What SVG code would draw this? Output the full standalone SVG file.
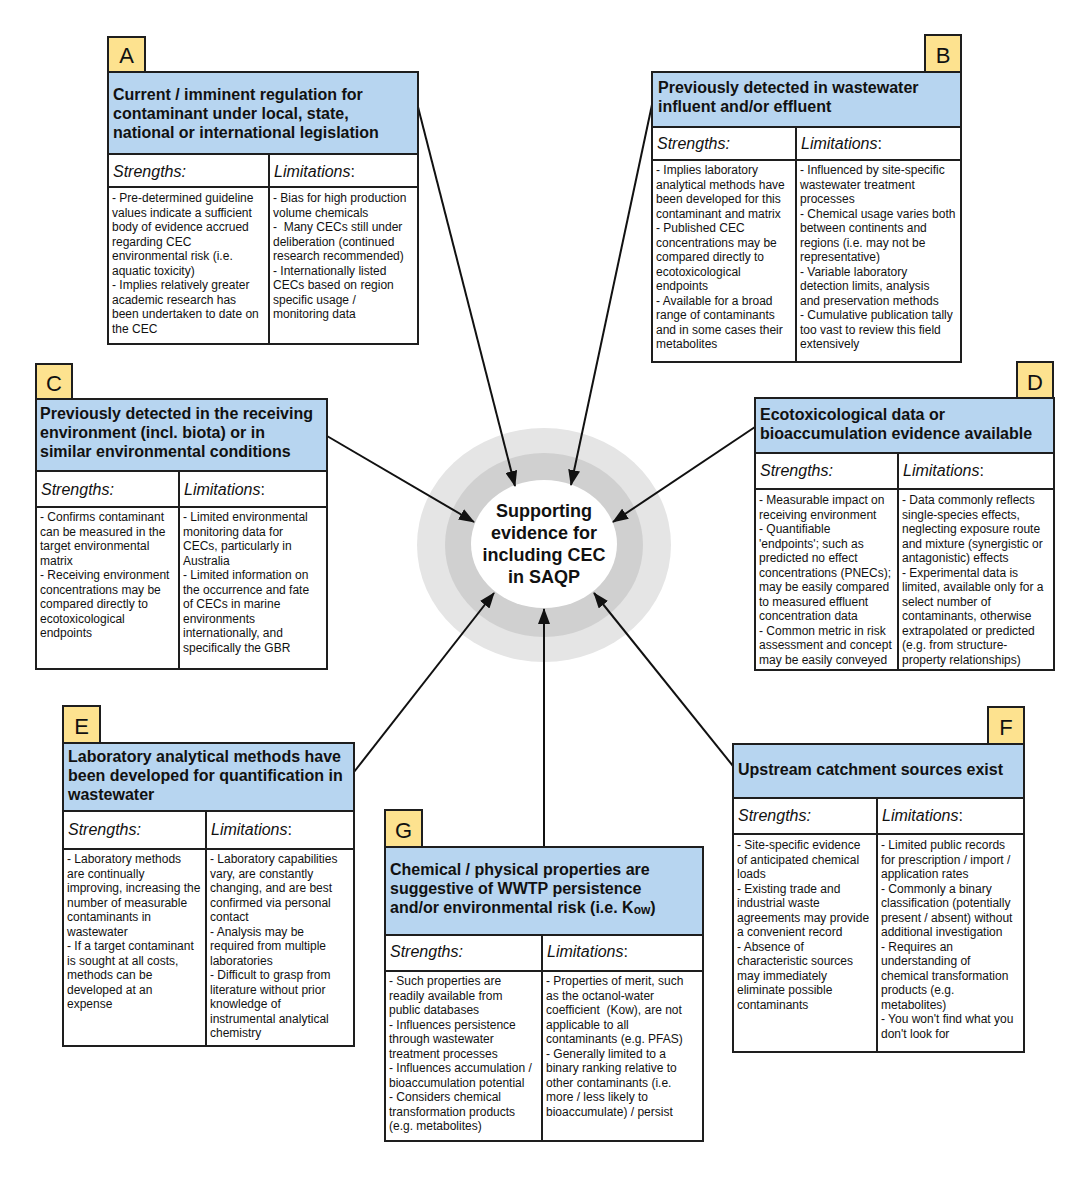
<svg xmlns="http://www.w3.org/2000/svg" width="1089" height="1178" viewBox="0 0 1089 1178">
<style>
.bg{fill:#ffffff}
.lbl{fill:#fde28f;stroke:#1e1e1e;stroke-width:2}
.ttl{fill:#b7d5f0;stroke:#1e1e1e;stroke-width:2}
.cell{fill:#ffffff;stroke:#1e1e1e;stroke-width:2}
.div{stroke:#1e1e1e;stroke-width:2}
.lt{font-family:"Liberation Sans",Arial,sans-serif;font-size:22px;fill:#111;text-anchor:middle}
.tt{font-family:"Liberation Sans",Arial,sans-serif;font-size:16px;font-weight:bold;fill:#111}
.hd{font-family:"Liberation Sans",Arial,sans-serif;font-size:16px;font-style:italic;fill:#111}
.up{font-style:normal}
.bd{font-family:"Liberation Sans",Arial,sans-serif;font-size:12px;fill:#111}
.ct{font-family:"Liberation Sans",Arial,sans-serif;font-size:18px;font-weight:bold;fill:#111;text-anchor:middle}
.arr{stroke:#111;stroke-width:2;fill:none;marker-end:url(#ah)}
</style>
<defs>
<marker id="ah" markerUnits="userSpaceOnUse" markerWidth="16" markerHeight="12" refX="15" refY="6" orient="auto">
<path d="M0,0 L16,6 L0,12 z" fill="#111"/>
</marker>
</defs>
<rect class="bg" x="0" y="0" width="1089" height="1178"/>

<g id="center">
<ellipse cx="544" cy="545" rx="127" ry="117" fill="#e5e5e5"/>
<ellipse cx="544" cy="545" rx="99" ry="92" fill="#d0d0d0"/>
<ellipse cx="544" cy="544" rx="73" ry="64" fill="#ffffff"/>
<text class="ct" x="544" y="517">Supporting</text>
<text class="ct" x="544" y="539">evidence for</text>
<text class="ct" x="544" y="561">including CEC</text>
<text class="ct" x="544" y="583">in SAQP</text>
</g>

<g id="connectors">
<line class="arr" x1="418" y1="107" x2="515" y2="486"/>
<line class="arr" x1="653" y1="100" x2="571" y2="485"/>
<line class="arr" x1="327" y1="436" x2="474" y2="522"/>
<line class="arr" x1="755" y1="427" x2="613" y2="522"/>
<line class="arr" x1="354" y1="772" x2="494" y2="593"/>
<line class="arr" x1="733" y1="766" x2="594" y2="593"/>
<line class="arr" x1="544" y1="847" x2="544" y2="609"/>
</g>

<g id="node-A">
<rect class="lbl" x="108" y="37" width="37" height="35"/>
<text class="lt" x="126.5" y="63">A</text>
<rect class="ttl" x="108" y="72" width="310" height="82"/>
<rect class="cell" x="108" y="154" width="310" height="33"/>
<rect class="cell" x="108" y="187" width="310" height="157"/>
<line class="div" x1="269" y1="154" x2="269" y2="344"/>
<text class="tt" x="113" y="100"><tspan x="113" dy="0">Current / imminent regulation for</tspan><tspan x="113" dy="19">contaminant under local, state,</tspan><tspan x="113" dy="19">national or international legislation</tspan></text>
<text class="hd" x="113" y="177">Strengths:</text>
<text class="hd" x="274" y="177">Limitations<tspan class="up">:</tspan></text>
<text class="bd" x="112" y="202"><tspan x="112" dy="0">- Pre-determined guideline</tspan><tspan x="112" dy="14.5">values indicate a sufficient</tspan><tspan x="112" dy="14.5">body of evidence accrued</tspan><tspan x="112" dy="14.5">regarding CEC</tspan><tspan x="112" dy="14.5">environmental risk (i.e.</tspan><tspan x="112" dy="14.5">aquatic toxicity)</tspan><tspan x="112" dy="14.5">- Implies relatively greater</tspan><tspan x="112" dy="14.5">academic research has</tspan><tspan x="112" dy="14.5">been undertaken to date on</tspan><tspan x="112" dy="14.5">the CEC</tspan></text>
<text class="bd" x="273" y="202"><tspan x="273" dy="0">- Bias for high production</tspan><tspan x="273" dy="14.5">volume chemicals</tspan><tspan x="273" dy="14.5">-&#160; Many CECs still under</tspan><tspan x="273" dy="14.5">deliberation (continued</tspan><tspan x="273" dy="14.5">research recommended)</tspan><tspan x="273" dy="14.5">- Internationally listed</tspan><tspan x="273" dy="14.5">CECs based on region</tspan><tspan x="273" dy="14.5">specific usage /</tspan><tspan x="273" dy="14.5">monitoring data</tspan></text>
</g>

<g id="node-B">
<rect class="lbl" x="925" y="35" width="36" height="37"/>
<text class="lt" x="943" y="63">B</text>
<rect class="ttl" x="652" y="72" width="309" height="55"/>
<rect class="cell" x="652" y="127" width="309" height="33"/>
<rect class="cell" x="652" y="160" width="309" height="202"/>
<line class="div" x1="796" y1="127" x2="796" y2="362"/>
<text class="tt" x="658" y="93"><tspan x="658" dy="0">Previously detected in wastewater</tspan><tspan x="658" dy="19">influent and/or effluent</tspan></text>
<text class="hd" x="657" y="149">Strengths:</text>
<text class="hd" x="801" y="149">Limitations<tspan class="up">:</tspan></text>
<text class="bd" x="656" y="174"><tspan x="656" dy="0">- Implies laboratory</tspan><tspan x="656" dy="14.5">analytical methods have</tspan><tspan x="656" dy="14.5">been developed for this</tspan><tspan x="656" dy="14.5">contaminant and matrix</tspan><tspan x="656" dy="14.5">- Published CEC</tspan><tspan x="656" dy="14.5">concentrations may be</tspan><tspan x="656" dy="14.5">compared directly to</tspan><tspan x="656" dy="14.5">ecotoxicological</tspan><tspan x="656" dy="14.5">endpoints</tspan><tspan x="656" dy="14.5">- Available for a broad</tspan><tspan x="656" dy="14.5">range of contaminants</tspan><tspan x="656" dy="14.5">and in some cases their</tspan><tspan x="656" dy="14.5">metabolites</tspan></text>
<text class="bd" x="800" y="174"><tspan x="800" dy="0">- Influenced by site-specific</tspan><tspan x="800" dy="14.5">wastewater treatment</tspan><tspan x="800" dy="14.5">processes</tspan><tspan x="800" dy="14.5">- Chemical usage varies both</tspan><tspan x="800" dy="14.5">between continents and</tspan><tspan x="800" dy="14.5">regions (i.e. may not be</tspan><tspan x="800" dy="14.5">representative)</tspan><tspan x="800" dy="14.5">- Variable laboratory</tspan><tspan x="800" dy="14.5">detection limits, analysis</tspan><tspan x="800" dy="14.5">and preservation methods</tspan><tspan x="800" dy="14.5">- Cumulative publication tally</tspan><tspan x="800" dy="14.5">too vast to review this field</tspan><tspan x="800" dy="14.5">extensively</tspan></text>
</g>

<g id="node-C">
<rect class="lbl" x="36" y="364" width="36" height="35"/>
<text class="lt" x="54" y="391">C</text>
<rect class="ttl" x="36" y="399" width="291" height="72"/>
<rect class="cell" x="36" y="471" width="291" height="36"/>
<rect class="cell" x="36" y="507" width="291" height="162"/>
<line class="div" x1="179" y1="471" x2="179" y2="669"/>
<text class="tt" x="40" y="419"><tspan x="40" dy="0">Previously detected in the receiving</tspan><tspan x="40" dy="19">environment (incl. biota) or in</tspan><tspan x="40" dy="19">similar environmental conditions</tspan></text>
<text class="hd" x="41" y="495">Strengths:</text>
<text class="hd" x="184" y="495">Limitations<tspan class="up">:</tspan></text>
<text class="bd" x="40" y="521"><tspan x="40" dy="0">- Confirms contaminant</tspan><tspan x="40" dy="14.5">can be measured in the</tspan><tspan x="40" dy="14.5">target environmental</tspan><tspan x="40" dy="14.5">matrix</tspan><tspan x="40" dy="14.5">- Receiving environment</tspan><tspan x="40" dy="14.5">concentrations may be</tspan><tspan x="40" dy="14.5">compared directly to</tspan><tspan x="40" dy="14.5">ecotoxicological</tspan><tspan x="40" dy="14.5">endpoints</tspan></text>
<text class="bd" x="183" y="521"><tspan x="183" dy="0">- Limited environmental</tspan><tspan x="183" dy="14.5">monitoring data for</tspan><tspan x="183" dy="14.5">CECs, particularly in</tspan><tspan x="183" dy="14.5">Australia</tspan><tspan x="183" dy="14.5">- Limited information on</tspan><tspan x="183" dy="14.5">the occurrence and fate</tspan><tspan x="183" dy="14.5">of CECs in marine</tspan><tspan x="183" dy="14.5">environments</tspan><tspan x="183" dy="14.5">internationally, and</tspan><tspan x="183" dy="14.5">specifically the GBR</tspan></text>
</g>

<g id="node-D">
<rect class="lbl" x="1017" y="362" width="36" height="36"/>
<text class="lt" x="1035" y="390">D</text>
<rect class="ttl" x="755" y="398" width="299" height="55"/>
<rect class="cell" x="755" y="453" width="299" height="36"/>
<rect class="cell" x="755" y="489" width="299" height="181"/>
<line class="div" x1="898" y1="453" x2="898" y2="670"/>
<text class="tt" x="760" y="420"><tspan x="760" dy="0">Ecotoxicological data or</tspan><tspan x="760" dy="19">bioaccumulation evidence available</tspan></text>
<text class="hd" x="760" y="476">Strengths:</text>
<text class="hd" x="903" y="476">Limitations<tspan class="up">:</tspan></text>
<text class="bd" x="759" y="504"><tspan x="759" dy="0">- Measurable impact on</tspan><tspan x="759" dy="14.5">receiving environment</tspan><tspan x="759" dy="14.5">- Quantifiable</tspan><tspan x="759" dy="14.5">'endpoints'; such as</tspan><tspan x="759" dy="14.5">predicted no effect</tspan><tspan x="759" dy="14.5">concentrations (PNECs);</tspan><tspan x="759" dy="14.5">may be easily compared</tspan><tspan x="759" dy="14.5">to measured effluent</tspan><tspan x="759" dy="14.5">concentration data</tspan><tspan x="759" dy="14.5">- Common metric in risk</tspan><tspan x="759" dy="14.5">assessment and concept</tspan><tspan x="759" dy="14.5">may be easily conveyed</tspan></text>
<text class="bd" x="902" y="504"><tspan x="902" dy="0">- Data commonly reflects</tspan><tspan x="902" dy="14.5">single-species effects,</tspan><tspan x="902" dy="14.5">neglecting exposure route</tspan><tspan x="902" dy="14.5">and mixture (synergistic or</tspan><tspan x="902" dy="14.5">antagonistic) effects</tspan><tspan x="902" dy="14.5">- Experimental data is</tspan><tspan x="902" dy="14.5">limited, available only for a</tspan><tspan x="902" dy="14.5">select number of</tspan><tspan x="902" dy="14.5">contaminants, otherwise</tspan><tspan x="902" dy="14.5">extrapolated or predicted</tspan><tspan x="902" dy="14.5">(e.g. from structure-</tspan><tspan x="902" dy="14.5">property relationships)</tspan></text>
</g>

<g id="node-E">
<rect class="lbl" x="63" y="706" width="37" height="37"/>
<text class="lt" x="81.5" y="734">E</text>
<rect class="ttl" x="63" y="743" width="291" height="68"/>
<rect class="cell" x="63" y="811" width="291" height="38"/>
<rect class="cell" x="63" y="849" width="291" height="197"/>
<line class="div" x1="206" y1="811" x2="206" y2="1046"/>
<text class="tt" x="68" y="762"><tspan x="68" dy="0">Laboratory analytical methods have</tspan><tspan x="68" dy="19">been developed for quantification in</tspan><tspan x="68" dy="19">wastewater</tspan></text>
<text class="hd" x="68" y="835">Strengths:</text>
<text class="hd" x="211" y="835">Limitations<tspan class="up">:</tspan></text>
<text class="bd" x="67" y="863"><tspan x="67" dy="0">- Laboratory methods</tspan><tspan x="67" dy="14.5">are continually</tspan><tspan x="67" dy="14.5">improving, increasing the</tspan><tspan x="67" dy="14.5">number of measurable</tspan><tspan x="67" dy="14.5">contaminants in</tspan><tspan x="67" dy="14.5">wastewater</tspan><tspan x="67" dy="14.5">- If a target contaminant</tspan><tspan x="67" dy="14.5">is sought at all costs,</tspan><tspan x="67" dy="14.5">methods can be</tspan><tspan x="67" dy="14.5">developed at an</tspan><tspan x="67" dy="14.5">expense</tspan></text>
<text class="bd" x="210" y="863"><tspan x="210" dy="0">- Laboratory capabilities</tspan><tspan x="210" dy="14.5">vary, are constantly</tspan><tspan x="210" dy="14.5">changing, and are best</tspan><tspan x="210" dy="14.5">confirmed via personal</tspan><tspan x="210" dy="14.5">contact</tspan><tspan x="210" dy="14.5">- Analysis may be</tspan><tspan x="210" dy="14.5">required from multiple</tspan><tspan x="210" dy="14.5">laboratories</tspan><tspan x="210" dy="14.5">- Difficult to grasp from</tspan><tspan x="210" dy="14.5">literature without prior</tspan><tspan x="210" dy="14.5">knowledge of</tspan><tspan x="210" dy="14.5">instrumental analytical</tspan><tspan x="210" dy="14.5">chemistry</tspan></text>
</g>

<g id="node-F">
<rect class="lbl" x="988" y="707" width="36" height="37"/>
<text class="lt" x="1006" y="735">F</text>
<rect class="ttl" x="733" y="744" width="291" height="54"/>
<rect class="cell" x="733" y="798" width="291" height="36"/>
<rect class="cell" x="733" y="834" width="291" height="218"/>
<line class="div" x1="877" y1="798" x2="877" y2="1052"/>
<text class="tt" x="738" y="775">Upstream catchment sources exist</text>
<text class="hd" x="738" y="821">Strengths:</text>
<text class="hd" x="882" y="821">Limitations<tspan class="up">:</tspan></text>
<text class="bd" x="737" y="849"><tspan x="737" dy="0">- Site-specific evidence</tspan><tspan x="737" dy="14.5">of anticipated chemical</tspan><tspan x="737" dy="14.5">loads</tspan><tspan x="737" dy="14.5">- Existing trade and</tspan><tspan x="737" dy="14.5">industrial waste</tspan><tspan x="737" dy="14.5">agreements may provide</tspan><tspan x="737" dy="14.5">a convenient record</tspan><tspan x="737" dy="14.5">- Absence of</tspan><tspan x="737" dy="14.5">characteristic sources</tspan><tspan x="737" dy="14.5">may immediately</tspan><tspan x="737" dy="14.5">eliminate possible</tspan><tspan x="737" dy="14.5">contaminants</tspan></text>
<text class="bd" x="881" y="849"><tspan x="881" dy="0">- Limited public records</tspan><tspan x="881" dy="14.5">for prescription / import /</tspan><tspan x="881" dy="14.5">application rates</tspan><tspan x="881" dy="14.5">- Commonly a binary</tspan><tspan x="881" dy="14.5">classification (potentially</tspan><tspan x="881" dy="14.5">present / absent) without</tspan><tspan x="881" dy="14.5">additional investigation</tspan><tspan x="881" dy="14.5">- Requires an</tspan><tspan x="881" dy="14.5">understanding of</tspan><tspan x="881" dy="14.5">chemical transformation</tspan><tspan x="881" dy="14.5">products (e.g.</tspan><tspan x="881" dy="14.5">metabolites)</tspan><tspan x="881" dy="14.5">- You won't find what you</tspan><tspan x="881" dy="14.5">don't look for</tspan></text>
</g>

<g id="node-G">
<rect class="lbl" x="385" y="810" width="37" height="37"/>
<text class="lt" x="403.5" y="838">G</text>
<rect class="ttl" x="385" y="847" width="318" height="88"/>
<rect class="cell" x="385" y="935" width="318" height="36"/>
<rect class="cell" x="385" y="971" width="318" height="170"/>
<line class="div" x1="542" y1="935" x2="542" y2="1141"/>
<text class="tt" x="390" y="875"><tspan x="390" dy="0">Chemical / physical properties are</tspan><tspan x="390" dy="19">suggestive of WWTP persistence</tspan><tspan x="390" dy="19">and/or environmental risk (i.e. K</tspan><tspan font-size="12" dy="1">ow</tspan><tspan dy="-1">)</tspan></text>
<text class="hd" x="390" y="957">Strengths:</text>
<text class="hd" x="547" y="957">Limitations<tspan class="up">:</tspan></text>
<text class="bd" x="389" y="985"><tspan x="389" dy="0">- Such properties are</tspan><tspan x="389" dy="14.5">readily available from</tspan><tspan x="389" dy="14.5">public databases</tspan><tspan x="389" dy="14.5">- Influences persistence</tspan><tspan x="389" dy="14.5">through wastewater</tspan><tspan x="389" dy="14.5">treatment processes</tspan><tspan x="389" dy="14.5">- Influences accumulation /</tspan><tspan x="389" dy="14.5">bioaccumulation potential</tspan><tspan x="389" dy="14.5">- Considers chemical</tspan><tspan x="389" dy="14.5">transformation products</tspan><tspan x="389" dy="14.5">(e.g. metabolites)</tspan></text>
<text class="bd" x="546" y="985"><tspan x="546" dy="0">- Properties of merit, such</tspan><tspan x="546" dy="14.5">as the octanol-water</tspan><tspan x="546" dy="14.5">coefficient&#160; (Kow), are not</tspan><tspan x="546" dy="14.5">applicable to all</tspan><tspan x="546" dy="14.5">contaminants (e.g. PFAS)</tspan><tspan x="546" dy="14.5">- Generally limited to a</tspan><tspan x="546" dy="14.5">binary ranking relative to</tspan><tspan x="546" dy="14.5">other contaminants (i.e.</tspan><tspan x="546" dy="14.5">more / less likely to</tspan><tspan x="546" dy="14.5">bioaccumulate) / persist</tspan></text>
</g>
</svg>
